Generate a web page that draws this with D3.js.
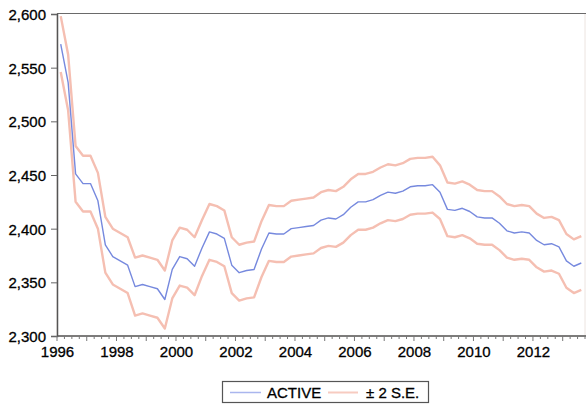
<!DOCTYPE html>
<html>
<head>
<meta charset="utf-8">
<script src="https://cdn.jsdelivr.net/npm/d3@7"></script>
<style>
  body { margin: 0; background: #fff; }
  svg text { font-family: 'Liberation Sans', Arial, sans-serif; fill: #000; stroke: #000; stroke-width: 0.3px; }
</style>
</head>
<body>
<div id="wrapper"></div>
<script>
// quarterly data 1996Q1 .. 2013Q3
const startYear = 1996;
const active = [2572, 2536, 2451, 2442, 2442, 2426, 2385, 2374, 2370, 2366,
  2346, 2348, 2346, 2344, 2334, 2362, 2374, 2372, 2365, 2382,
  2397, 2395, 2391, 2366, 2359, 2361, 2362, 2381, 2396, 2395,
  2395, 2400, 2401, 2402, 2403, 2408, 2410, 2409, 2413, 2420,
  2425, 2425, 2427, 2431, 2434, 2433, 2435, 2439, 2440, 2440,
  2441, 2434, 2418, 2417, 2419, 2416, 2411, 2410, 2410, 2405,
  2398, 2396, 2397, 2396, 2389, 2385, 2386, 2383, 2370, 2365, 2368];
const upper = [2598, 2562, 2477, 2468, 2468, 2452, 2411, 2400, 2396, 2392,
  2373, 2375, 2373, 2371, 2361, 2389, 2401, 2399, 2392, 2408,
  2423, 2421, 2417, 2392, 2385, 2387, 2388, 2407, 2422, 2421,
  2421, 2426, 2427, 2428, 2429, 2434, 2436, 2435, 2439, 2446,
  2451, 2451, 2453, 2457, 2460, 2459, 2461, 2465, 2466, 2466,
  2467, 2459, 2443, 2442, 2444, 2441, 2436, 2435, 2435, 2430,
  2423, 2421, 2422, 2421, 2414, 2410, 2411, 2408, 2395, 2390, 2393];
const lower = [2546, 2510, 2425, 2416, 2416, 2400, 2359, 2348, 2344, 2340,
  2319, 2321, 2319, 2317, 2307, 2335, 2347, 2345, 2338, 2356,
  2371, 2369, 2365, 2340, 2333, 2335, 2336, 2355, 2370, 2369,
  2369, 2374, 2375, 2376, 2377, 2382, 2384, 2383, 2387, 2394,
  2399, 2399, 2401, 2405, 2408, 2407, 2409, 2413, 2414, 2414,
  2415, 2409, 2393, 2392, 2394, 2391, 2386, 2385, 2385, 2380,
  2373, 2371, 2372, 2371, 2364, 2360, 2361, 2358, 2345, 2340, 2343];
const yTicks = [2300, 2350, 2400, 2450, 2500, 2550, 2600];
const xLabels = [1996, 1998, 2000, 2002, 2004, 2006, 2008, 2010, 2012];

// mid-quarter position in decimal years
const tAccessor = (d, i) => startYear + (i + 0.5) / 4;

const width = 586;
const height = 406;

const xScale = d3.scaleLinear().domain([1996, 2013.75]).range([57, 585]);
const yScale = d3.scaleLinear().domain([2300, 2600]).range([336, 14]);

const svg = d3.select('#wrapper')
  .append('svg')
  .attr('width', width)
  .attr('height', height);

const blur = svg.append('defs').append('filter').attr('id', 'soft');
blur.append('feGaussianBlur').attr('stdDeviation', 0.7);

// frame
svg.append('rect')
  .attr('x', 57).attr('y', 13.5)
  .attr('width', 528).attr('height', 322.5)
  .attr('fill', 'none')
  .attr('stroke', '#ece4e0')
  .attr('stroke-width', 1);
svg.append('line')
  .attr('x1', 57).attr('x2', 586).attr('y1', 13.5).attr('y2', 13.5)
  .attr('stroke', '#6a6a6a').attr('stroke-width', 1.2);

// lines
const line = d3.line()
  .x((d, i) => xScale(tAccessor(d, i)))
  .y((d) => yScale(d));

[upper, lower].forEach((s) => {
  svg.append('path')
    .datum(s)
    .attr('d', line)
    .attr('fill', 'none')
    .attr('stroke', '#f5bfb2')
    .attr('stroke-width', 2.4)
    .attr('stroke-linejoin', 'round')
    .attr('filter', 'url(#soft)');
});

svg.append('path')
  .datum(active)
  .attr('d', line)
  .attr('fill', 'none')
  .attr('stroke', '#7689de')
  .attr('stroke-width', 1.4)
  .attr('stroke-linejoin', 'round');

// y axis
const yAxis = d3.axisLeft(yScale)
  .tickValues(yTicks)
  .tickSize(6)
  .tickPadding(5)
  .tickFormat(d3.format(','));
const yG = svg.append('g')
  .attr('transform', 'translate(57,0)')
  .call(yAxis);
yG.select('.domain').attr('stroke', '#555').attr('stroke-width', 1.5);
yG.selectAll('.tick line').attr('stroke', '#666');
yG.selectAll('.tick text').style('font-size', '15px').attr('dy', '0.36em');

// x axis: quarterly minor ticks, year ticks, labels every 2 years
const quarters = d3.range(1996, 2013.76, 0.25);
const xG = svg.append('g').attr('transform', 'translate(0,336)');
xG.append('line')
  .attr('x1', 57).attr('x2', 586)
  .attr('stroke', '#555').attr('stroke-width', 1.5);
xG.selectAll('line.minor')
  .data(quarters)
  .enter()
  .append('line')
  .attr('class', 'minor')
  .attr('x1', (d) => xScale(d)).attr('x2', (d) => xScale(d))
  .attr('y1', 0)
  .attr('y2', (d) => (Number.isInteger(d) ? 5 : 3))
  .attr('stroke', '#777');

const xAxis = d3.axisBottom(xScale)
  .tickValues(xLabels)
  .tickSize(0)
  .tickPadding(10)
  .tickFormat(d3.format('d'));
const xAxisG = svg.append('g')
  .attr('transform', 'translate(0,336)')
  .call(xAxis);
xAxisG.select('.domain').remove();
xAxisG.selectAll('.tick text').style('font-size', '15px');

// legend
const legend = svg.append('g').attr('id', 'legend');
legend.append('rect')
  .attr('x', 222.5).attr('y', 381.5)
  .attr('width', 206).attr('height', 21)
  .attr('fill', '#fff')
  .attr('stroke', '#555')
  .attr('stroke-width', 1.2);
legend.append('line')
  .attr('x1', 230).attr('x2', 261).attr('y1', 392.5).attr('y2', 392.5)
  .attr('stroke', '#aab6ee').attr('stroke-width', 1.5);
legend.append('text')
  .attr('x', 267).attr('y', 397.5)
  .style('font-size', '15px')
  .text('ACTIVE');
legend.append('line')
  .attr('x1', 328).attr('x2', 358).attr('y1', 392.5).attr('y2', 392.5)
  .attr('stroke', '#f7cbc0').attr('stroke-width', 2);
legend.append('text')
  .attr('x', 366).attr('y', 397.5)
  .style('font-size', '15px')
  .text('± 2 S.E.');
</script>
</body>
</html>
